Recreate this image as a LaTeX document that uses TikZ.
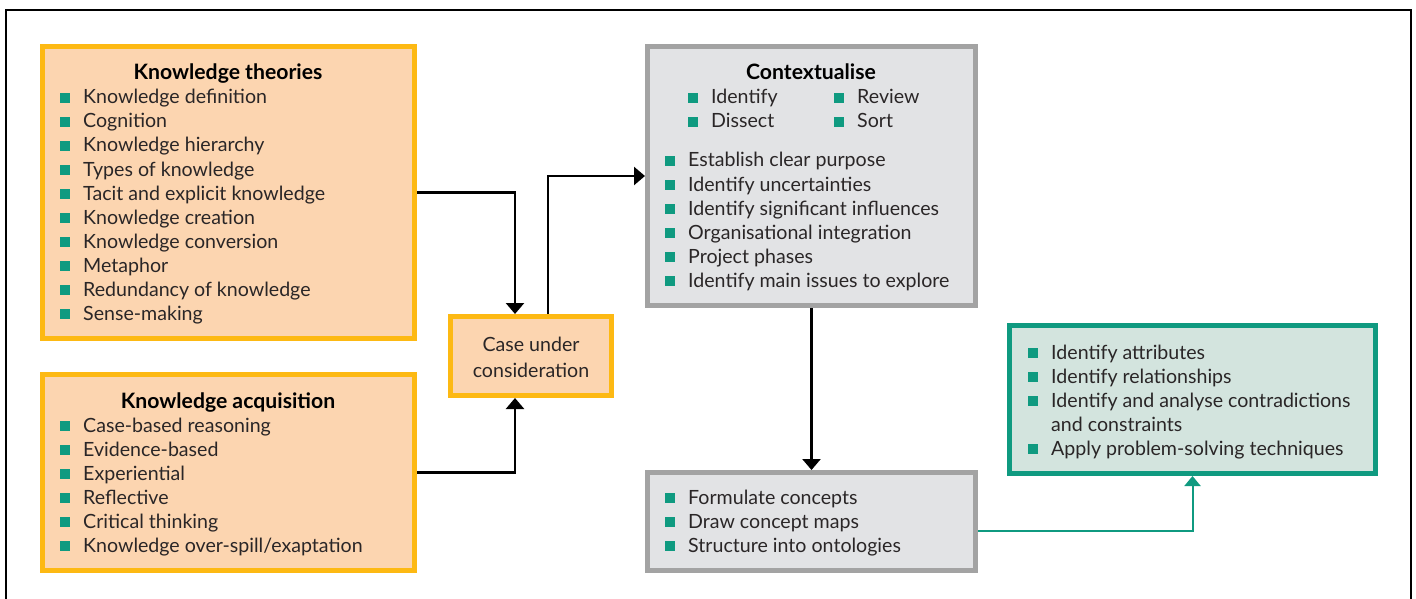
\documentclass[tikz,border=0pt]{standalone}
\usepackage{fontspec}
\setmainfont{Lato}
\usetikzlibrary{arrows.meta}

\definecolor{orangeline}{HTML}{FDB913}
\definecolor{orangefill}{HTML}{FCD5B0}
\definecolor{greyline}{HTML}{A3A3A3}
\definecolor{greyfill}{HTML}{E2E3E5}
\definecolor{tealline}{HTML}{0F9A80}
\definecolor{tealfill}{HTML}{D3E4DE}
\definecolor{ink}{HTML}{2A2627}

\tikzset{
  panel/.style={rectangle, line width=5pt, inner sep=0pt},
  warm/.style={panel, draw=orangeline, fill=orangefill},
  cool/.style={panel, draw=greyline, fill=greyfill},
  fresh/.style={panel, draw=tealline, fill=tealfill},
  txt/.style={inner sep=0pt, anchor=base west, text=ink, font=\fontsize{19.6}{24}\selectfont},
  ttl/.style={inner sep=0pt, anchor=base, text=black, font=\fontsize{21.2}{24}\selectfont\bfseries},
  bul/.style={rectangle, fill=tealline, minimum size=9.5pt, inner sep=0pt},
  flow/.style={line width=2.5pt, -{Triangle[width=18pt,length=11pt]}},
  tealflow/.style={line width=2pt, draw=tealline, -{Triangle[width=16pt,length=10pt]}},
}

% a bulleted line: name, text x, baseline y, text
\newcommand{\bulletline}[4]{%
  \node[bul] (#1b) at (#2-18, #3-6) {};
  \node[txt] (#1) at (#2, #3) {#4};
}

\begin{document}
\begin{tikzpicture}[x=1pt, y=-1pt]
\useasboundingbox (0,0) rectangle (1416,599);

% open frame around the figure
\draw[line width=2pt] (6,599) -- (6,10) -- (1411,10) -- (1411,599);

% panels
\node[warm, minimum width=372pt, minimum height=292pt] (kt) at (228.5,192.5) {};
\node[warm, minimum width=372pt, minimum height=196pt] (ka) at (228.5,472.5) {};
\node[warm, minimum width=161pt, minimum height=79pt] (case) at (531,356) {};
\node[cool, minimum width=328pt, minimum height=259pt] (ctx) at (811.5,176) {};
\node[cool, minimum width=328pt, minimum height=98pt] (maps) at (811.5,521.5) {};
\node[fresh, minimum width=366pt, minimum height=148pt] (solve) at (1192.5,399.5) {};

% Knowledge theories
\node[ttl] (ktt) at (228,80) {Knowledge theories};
\bulletline{kt1}{83}{104}{Knowledge definition}
\bulletline{kt2}{83}{128}{Cognition}
\bulletline{kt3}{83}{152}{Knowledge hierarchy}
\bulletline{kt4}{83}{176}{Types of knowledge}
\bulletline{kt5}{83}{200}{Tacit and explicit knowledge}
\bulletline{kt6}{83}{224}{Knowledge creation}
\bulletline{kt7}{83}{248}{Knowledge conversion}
\bulletline{kt8}{83}{272}{Metaphor}
\bulletline{kt9}{83}{296}{Redundancy of knowledge}
\bulletline{kt10}{83}{320}{Sense-making}

% Knowledge acquisition
\node[ttl] (kat) at (228,408) {Knowledge acquisition};
\bulletline{ka1}{83}{432}{Case-based reasoning}
\bulletline{ka2}{83}{456}{Evidence-based}
\bulletline{ka3}{83}{480}{Experiential}
\bulletline{ka4}{83}{504}{Reflective}
\bulletline{ka5}{83}{528}{Critical thinking}
\bulletline{ka6}{83}{552}{Knowledge over-spill/exaptation}

% Case under consideration
\node[txt, anchor=base] (case1) at (531,351) {Case under};
\node[txt, anchor=base] (case2) at (531,377) {consideration};

% Contextualise
\node[ttl] (ctxt) at (811,80) {Contextualise};
\bulletline{cx1}{711}{104}{Identify}
\bulletline{cx2}{711}{128}{Dissect}
\bulletline{cx3}{857}{104}{Review}
\bulletline{cx4}{857}{128}{Sort}
\bulletline{cx5}{688}{167}{Establish clear purpose}
\bulletline{cx6}{688}{191}{Identify uncertainties}
\bulletline{cx7}{688}{215}{Identify significant influences}
\bulletline{cx8}{688}{239}{Organisational integration}
\bulletline{cx9}{688}{263}{Project phases}
\bulletline{cx10}{688}{287}{Identify main issues to explore}

% Concept mapping
\bulletline{mp1}{688}{504}{Formulate concepts}
\bulletline{mp2}{688}{528}{Draw concept maps}
\bulletline{mp3}{688}{552}{Structure into ontologies}

% Problem solving
\bulletline{sv1}{1051}{359}{Identify attributes}
\bulletline{sv2}{1051}{383}{Identify relationships}
\bulletline{sv3}{1051}{407}{Identify and analyse contradictions}
\node[txt] (sv3b) at (1051,431) {and constraints};
\bulletline{sv4}{1051}{455}{Apply problem-solving techniques}

% connectors
\draw[flow] (kt.east) -| ([xshift=-16pt]case.north);
\draw[flow] (ka.east) -| ([xshift=-16pt]case.south);
\draw[flow] ([xshift=17pt]case.north) |- (ctx.west);
\draw[flow] (ctx.south) -- (maps.north);
\draw[tealflow] ([yshift=-9.5pt]maps.east) -| (solve.south);
\end{tikzpicture}
\end{document}
